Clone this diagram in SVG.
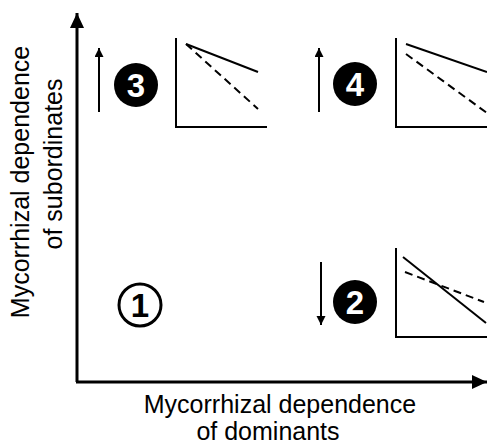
<svg xmlns="http://www.w3.org/2000/svg" width="487" height="448" viewBox="0 0 487 448">
<style>
.lbl{font-family:"Liberation Sans",Arial,sans-serif;font-size:25px;fill:#000;text-anchor:middle}
.num{font-family:"Liberation Sans",Arial,sans-serif;font-size:33px;font-weight:bold;text-anchor:middle}
.ax{stroke:#000;stroke-width:3;fill:none}
.thin{stroke:#000;stroke-width:2;fill:none}
.dash{stroke:#000;stroke-width:2;fill:none;stroke-dasharray:8 5}
</style>
<defs>
<marker id="big" markerUnits="userSpaceOnUse" markerWidth="16" markerHeight="16" refX="15" refY="7" orient="auto">
<path d="M0,0 L15,7 L0,14 Z" fill="#000"/>
</marker>
<marker id="small" markerUnits="userSpaceOnUse" markerWidth="10" markerHeight="10" refX="9" refY="4.5" orient="auto">
<path d="M0,0 L9,4.5 L0,9 Z" fill="#000"/>
</marker>
</defs>
<rect width="487" height="448" fill="#fff"/>
<g id="connectors">
<line class="ax" x1="77" y1="382" x2="77" y2="13" marker-end="url(#big)"/>
<line class="ax" x1="76" y1="382" x2="487" y2="382" marker-end="url(#big)"/>
<line class="thin" x1="99" y1="112" x2="99" y2="48" marker-end="url(#small)"/>
<line class="thin" x1="319" y1="112" x2="319" y2="48" marker-end="url(#small)"/>
<line class="thin" x1="321" y1="262" x2="321" y2="325" marker-end="url(#small)"/>
</g>
<g id="axis-labels">
<text class="lbl" transform="translate(29,182) rotate(-90)">Mycorrhizal dependence</text>
<text class="lbl" transform="translate(62,164) rotate(-90)">of subordinates</text>
<text class="lbl" x="280" y="413">Mycorrhizal dependence</text>
<text class="lbl" x="268" y="440">of dominants</text>
</g>
<g id="node-1">
<circle cx="140" cy="305" r="21" fill="#fff" stroke="#000" stroke-width="3"/>
<text class="num" x="140" y="317" fill="#000">1</text>
</g>
<g id="node-2">
<circle cx="355" cy="302" r="22" fill="#000"/>
<text class="num" x="355" y="314" fill="#fff">2</text>
<polyline class="thin" points="396,248 396,337 487,337"/>
<line class="thin" x1="403" y1="257" x2="486" y2="323"/>
<line class="dash" x1="405" y1="272" x2="484" y2="302"/>
</g>
<g id="node-3">
<circle cx="136" cy="85" r="22" fill="#000"/>
<text class="num" x="136" y="97" fill="#fff">3</text>
<polyline class="thin" points="176,38 176,127 267,127"/>
<line class="thin" x1="186" y1="44" x2="258" y2="72"/>
<line class="dash" x1="186" y1="44" x2="258" y2="109"/>
</g>
<g id="node-4">
<circle cx="355" cy="84" r="22" fill="#000"/>
<text class="num" x="355" y="96" fill="#fff">4</text>
<polyline class="thin" points="396,38 396,127 487,127"/>
<line class="thin" x1="406" y1="44" x2="487" y2="72"/>
<line class="dash" x1="406" y1="54" x2="487" y2="113"/>
</g>
</svg>
